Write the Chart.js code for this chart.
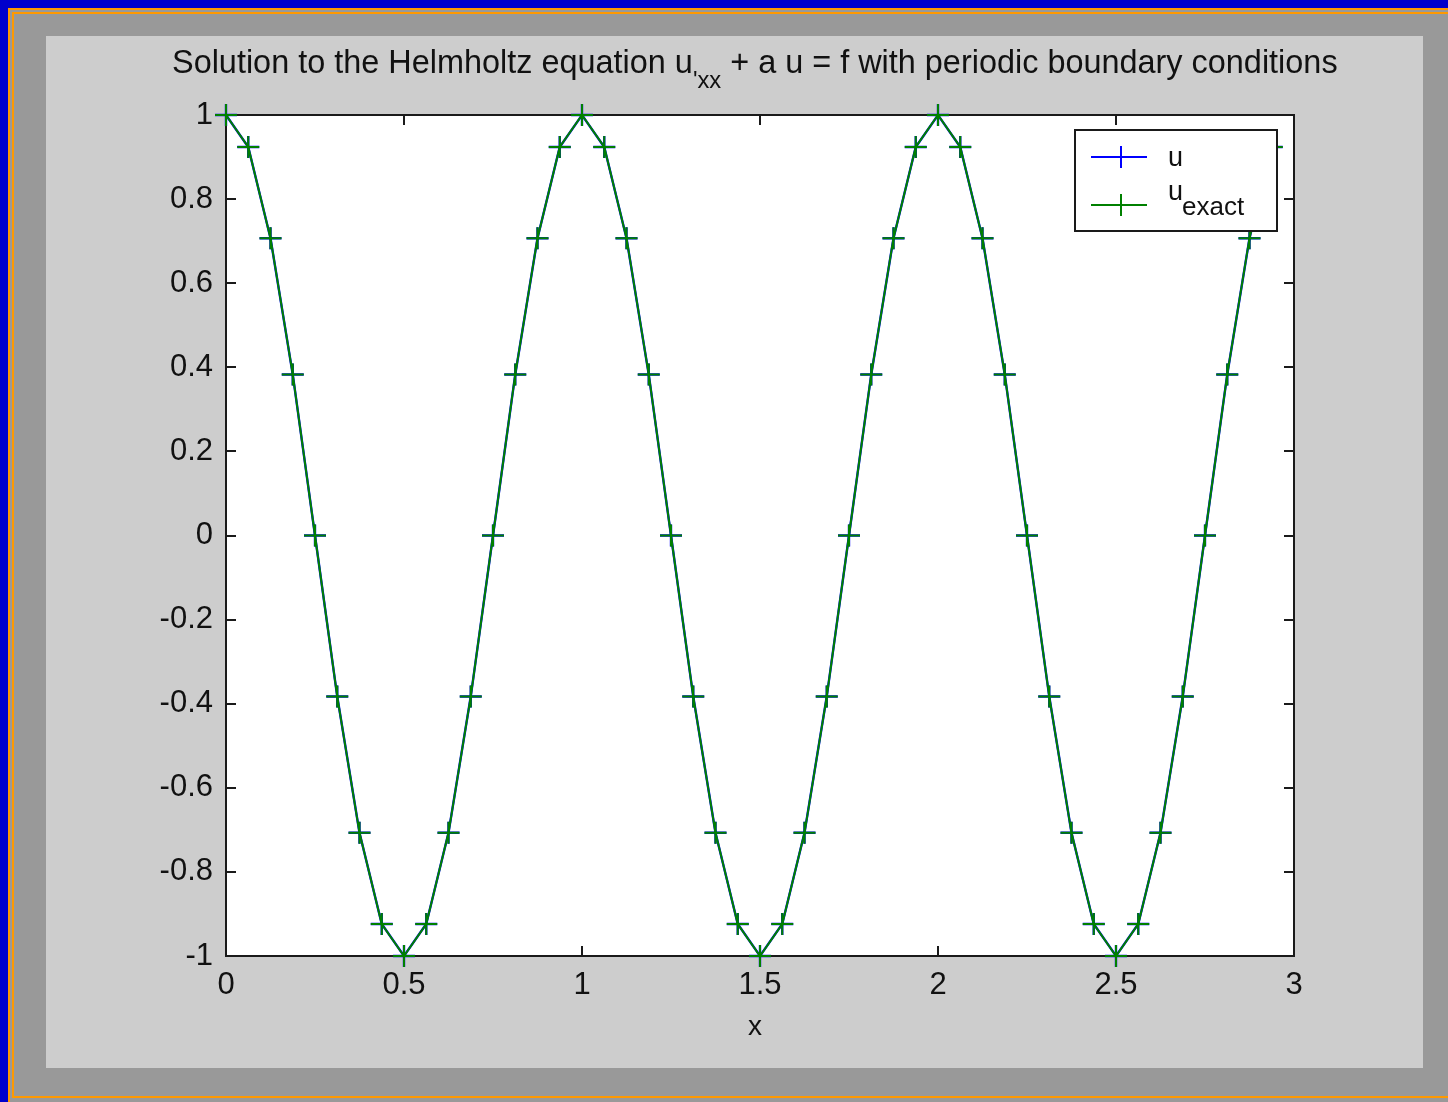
<!DOCTYPE html>
<html><head><meta charset="utf-8">
<script src="https://cdn.jsdelivr.net/npm/chart.js@4.4.0/dist/chart.umd.min.js"></script>
<style>
html,body{margin:0;padding:0;width:1448px;height:1102px;overflow:hidden;background:#999999;position:relative}
.b{position:absolute}
#panel{position:absolute;left:46px;top:36px;width:1377px;height:1032px;background:#cdcdcd}
canvas{display:block}
</style></head><body>
<div class="b" style="left:0;top:0;width:8px;height:1102px;background:#0000cc"></div>
<div class="b" style="left:0;top:0;width:1448px;height:8px;background:#0000cc"></div>
<div class="b" style="left:8px;top:8px;width:1440px;height:2px;background:#ff9900"></div>
<div class="b" style="left:8px;top:8px;width:2px;height:1094px;background:#ff9900"></div>
<div class="b" style="left:12px;top:12px;width:1436px;height:2px;background:#ff9900"></div>
<div class="b" style="left:12px;top:12px;width:2px;height:1086px;background:#ff9900"></div>
<div class="b" style="left:12px;top:1096px;width:1436px;height:2px;background:#ff9900"></div>
<div id="panel"><canvas id="c" width="1377" height="1032"></canvas></div>
<script>
const xValues = [0, 0.0625, 0.125, 0.1875, 0.25, 0.3125, 0.375, 0.4375,
  0.5, 0.5625, 0.625, 0.6875, 0.75, 0.8125, 0.875, 0.9375,
  1, 1.0625, 1.125, 1.1875, 1.25, 1.3125, 1.375, 1.4375,
  1.5, 1.5625, 1.625, 1.6875, 1.75, 1.8125, 1.875, 1.9375,
  2, 2.0625, 2.125, 2.1875, 2.25, 2.3125, 2.375, 2.4375,
  2.5, 2.5625, 2.625, 2.6875, 2.75, 2.8125, 2.875, 2.9375];
const uValues = [1, 0.924, 0.707, 0.383, 0, -0.383, -0.707, -0.924,
  -1, -0.924, -0.707, -0.383, 0, 0.383, 0.707, 0.924,
  1, 0.924, 0.707, 0.383, 0, -0.383, -0.707, -0.924,
  -1, -0.924, -0.707, -0.383, 0, 0.383, 0.707, 0.924,
  1, 0.924, 0.707, 0.383, 0, -0.383, -0.707, -0.924,
  -1, -0.924, -0.707, -0.383, 0, 0.383, 0.707, 0.924];
const uExactValues = [1, 0.924, 0.707, 0.383, 0, -0.383, -0.707, -0.924,
  -1, -0.924, -0.707, -0.383, 0, 0.383, 0.707, 0.924,
  1, 0.924, 0.707, 0.383, 0, -0.383, -0.707, -0.924,
  -1, -0.924, -0.707, -0.383, 0, 0.383, 0.707, 0.924,
  1, 0.924, 0.707, 0.383, 0, -0.383, -0.707, -0.924,
  -1, -0.924, -0.707, -0.383, 0, 0.383, 0.707, 0.924];
const xTicks = [0, 0.5, 1, 1.5, 2, 2.5, 3];
const xTickLabels = ['0', '0.5', '1', '1.5', '2', '2.5', '3'];
const yTicks = [-1, -0.8, -0.6, -0.4, -0.2, 0, 0.2, 0.4, 0.6, 0.8, 1];
const yTickLabels = ['-1', '-0.8', '-0.6', '-0.4', '-0.2', '0', '0.2', '0.4', '0.6', '0.8', '1'];
const titleMain = 'Solution to the Helmholtz equation u';
const titleSub = "'xx";
const titleRest = ' + a u = f with periodic boundary conditions';
const xLabel = 'x';
const seriesNames = ['u', 'u'];
const seriesSubs = ['', 'exact'];

const FONT = '"Liberation Sans", Arial, Helvetica, sans-serif';
const INK = '#111111';

const toPts = (ys) => xValues.map((x, i) => ({x: x, y: ys[i]}));

const matlabPlugin = {
  id: 'matlab',
  beforeDatasetsDraw(chart) {
    const {ctx, chartArea: a} = chart;
    const xs = chart.scales.x, ys = chart.scales.y;
    ctx.save();
    ctx.fillStyle = '#ffffff';
    ctx.fillRect(a.left, a.top, a.right - a.left, a.bottom - a.top);
    ctx.strokeStyle = '#1a1a1a';
    ctx.lineWidth = 2;
    ctx.strokeRect(a.left, a.top, a.right - a.left, a.bottom - a.top);
    const tl = 10;
    ctx.beginPath();
    xTicks.forEach(v => {
      const px = Math.round(xs.getPixelForValue(v));
      ctx.moveTo(px, a.bottom); ctx.lineTo(px, a.bottom - tl);
      ctx.moveTo(px, a.top); ctx.lineTo(px, a.top + tl);
    });
    yTicks.forEach(v => {
      const py = Math.round(ys.getPixelForValue(v));
      ctx.moveTo(a.left, py); ctx.lineTo(a.left + tl, py);
      ctx.moveTo(a.right, py); ctx.lineTo(a.right - tl, py);
    });
    ctx.stroke();
    ctx.restore();
  },
  afterDraw(chart) {
    const {ctx, chartArea: a} = chart;
    ctx.save();
    ctx.fillStyle = INK;
    ctx.textBaseline = 'alphabetic';
    ctx.textAlign = 'left';
    let fs = 30, ss = 22;
    const measure = () => {
      ctx.font = fs + 'px ' + FONT; const w1 = ctx.measureText(titleMain).width; const w3 = ctx.measureText(titleRest).width;
      ctx.font = ss + 'px ' + FONT; const w2 = ctx.measureText(titleSub).width;
      return [w1, w2, w3];
    };
    let w = measure();
    const target = 1166;
    const k = target / (w[0] + w[1] + w[2]);
    fs = fs * k; ss = ss * k; w = measure();
    let tx = 126, tb = 37;
    ctx.font = fs + 'px ' + FONT; ctx.fillText(titleMain, tx, tb); tx += w[0];
    ctx.font = ss + 'px ' + FONT; ctx.fillText(titleSub, tx, tb + 15); tx += w[1];
    ctx.font = fs + 'px ' + FONT; ctx.fillText(titleRest, tx, tb);
    ctx.font = '28px ' + FONT;
    ctx.textAlign = 'center';
    ctx.textBaseline = 'middle';
    ctx.fillText(xLabel, (a.left + a.right) / 2 - 5, 991);
    const lx = 1029, ly = 94, lw = 202, lh = 101;
    ctx.fillStyle = '#ffffff';
    ctx.fillRect(lx, ly, lw, lh);
    ctx.strokeStyle = '#1a1a1a'; ctx.lineWidth = 2;
    ctx.strokeRect(lx, ly, lw, lh);
    const rows = [{y: 121, idx: 0}, {y: 169, idx: 1}];
    rows.forEach((r) => {
      const ds = chart.data.datasets[r.idx];
      ctx.strokeStyle = ds.borderColor; ctx.lineWidth = 2;
      ctx.beginPath();
      ctx.moveTo(lx + 16, r.y); ctx.lineTo(lx + 72, r.y);
      ctx.moveTo(lx + 46, r.y - 11); ctx.lineTo(lx + 46, r.y + 11);
      ctx.stroke();
    });
    ctx.fillStyle = INK;
    ctx.textAlign = 'left'; ctx.textBaseline = 'alphabetic';
    ctx.font = '27px ' + FONT;
    ctx.fillText(seriesNames[0], 1122, 130);
    ctx.fillText(seriesNames[1], 1122, 164);
    ctx.font = '26px ' + FONT;
    ctx.fillText(seriesSubs[1], 1136, 179);
    ctx.restore();
  }
};

new Chart(document.getElementById('c'), {
  type: 'line',
  data: {
    datasets: [
      {label: 'u', data: toPts(uValues), borderColor: '#0000ff', backgroundColor: '#0000ff',
       borderWidth: 2.4, pointStyle: 'cross', pointRadius: 11, pointBorderWidth: 2.4,
       pointHoverRadius: 11, tension: 0, clip: false, order: 2},
      {label: 'u exact', data: toPts(uExactValues), borderColor: '#008000', backgroundColor: '#008000',
       borderWidth: 2, pointStyle: 'cross', pointRadius: 11, pointBorderWidth: 2,
       pointHoverRadius: 11, tension: 0, clip: false, order: 1}
    ]
  },
  options: {
    responsive: false,
    animation: false,
    events: [],
    layout: {padding: {left: 0, top: 79, right: 129, bottom: 0}},
    plugins: {legend: {display: false}, title: {display: false}, tooltip: {enabled: false}},
    scales: {
      x: {
        type: 'linear', position: 'bottom', min: 0, max: 3,
        afterBuildTicks: (s) => { s.ticks = xTicks.map(v => ({value: v})); },
        afterFit: (s) => { s.height = 112; },
        grid: {display: false, drawTicks: false},
        border: {display: false},
        ticks: {font: {family: FONT, size: 31}, color: INK, padding: 11, maxRotation: 0, autoSkip: false,
                callback: (v, i) => xTickLabels[i]}
      },
      y: {
        type: 'linear', position: 'left', min: -1, max: 1,
        afterBuildTicks: (s) => { s.ticks = yTicks.map(v => ({value: v})); },
        afterFit: (s) => { s.width = 180; },
        grid: {display: false, drawTicks: false},
        border: {display: false},
        ticks: {font: {family: FONT, size: 31}, color: INK, padding: 13, autoSkip: false,
                callback: (v, i) => yTickLabels[i]}
      }
    }
  },
  plugins: [matlabPlugin]
});
</script>
</body></html>
